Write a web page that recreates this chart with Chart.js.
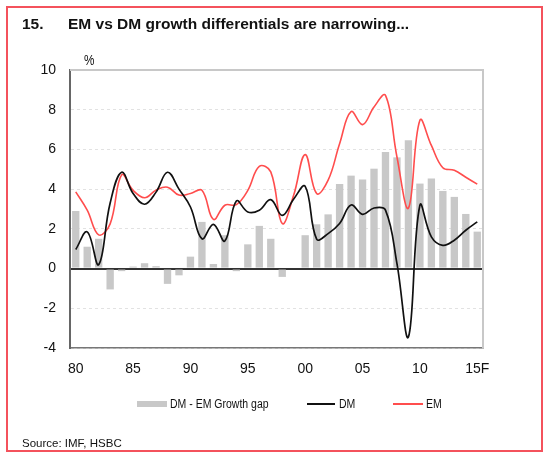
<!DOCTYPE html>
<html>
<head>
<meta charset="utf-8">
<script src="https://cdn.jsdelivr.net/npm/chart.js@4.4.1/dist/chart.umd.min.js"></script>
<style>
  body { margin: 0; background: #fff; }
  #wrap { position: relative; width: 550px; height: 460px; font-family: "Liberation Sans", Arial, sans-serif; color: #111; }
  #frame { position: absolute; left: 6px; top: 6px; width: 533px; height: 442px; border: 2px solid #f4525c; }
  #chart { position: absolute; left: 0; top: 0; }
  .t { position: absolute; white-space: nowrap; }
  .title { font-weight: bold; font-size: 15.5px; line-height: 16px; top: 16px; }
  .narrow { transform: scaleX(0.84); transform-origin: 0 50%; }
  .key { position: absolute; }
</style>
</head>
<body>
<div id="wrap">
  <div id="frame"></div>
  <canvas id="chart" width="550" height="460"></canvas>
  <div class="t title" style="left:22px">15.</div>
  <div class="t title" style="left:68px">EM vs DM growth differentials are narrowing...</div>
  <div class="t narrow" style="left:84px; top:52px; font-size:14px; line-height:16px">%</div>

  <div class="key" style="left:137px; top:401px; width:30px; height:6px; background:#c8c8c8"></div>
  <div class="t narrow" style="left:170px; top:396px; font-size:12.5px; line-height:16px">DM - EM Growth gap</div>
  <div class="key" style="left:307px; top:403px; width:28px; height:2px; background:#111"></div>
  <div class="t narrow" style="left:339px; top:396px; font-size:12.5px; line-height:16px">DM</div>
  <div class="key" style="left:393px; top:403px; width:30px; height:2px; background:#ff4d4d"></div>
  <div class="t narrow" style="left:426px; top:396px; font-size:12.5px; line-height:16px">EM</div>

  <div class="t" style="left:22px; top:435px; font-size:11.5px; line-height:16px">Source: IMF, HSBC</div>
</div>
<script>
// years on the x axis, labelled every 5 years
const years = [1980, 1981, 1982, 1983, 1984, 1985, 1986, 1987, 1988, 1989,
               1990, 1991, 1992, 1993, 1994, 1995, 1996, 1997, 1998, 1999,
               2000, 2001, 2002, 2003, 2004, 2005, 2006, 2007, 2008, 2009,
               2010, 2011, 2012, 2013, 2014, 2015];
const yearLabels = ['80', '85', '90', '95', '00', '05', '10', '15F'];

// growth gap bars (%)
const gap = [2.9, 1.1, 1.5, -1.05, -0.13, 0.1, 0.27, 0.12, -0.77, -0.34,
             0.6, 2.35, 0.23, 1.68, -0.13, 1.22, 2.15, 1.5, -0.42, 0.0,
             1.68, 2.23, 2.73, 4.26, 4.68, 4.48, 5.03, 5.87, 5.6, 6.46,
             4.28, 4.53, 3.91, 3.61, 2.75, 1.86];

// DM growth (%)
const dm = [0.96, 1.85, 0.2, 3.3, 4.85, 3.78, 3.24, 3.85, 4.85, 4.0,
            3.1, 1.5, 2.23, 1.39, 3.4, 2.85, 2.94, 3.47, 2.68, 3.5,
            4.14, 1.48, 1.76, 2.27, 3.2, 2.73, 3.05, 2.94, 0.25, -3.44,
            3.19, 1.6, 1.17, 1.43, 1.93, 2.35];

// EM growth (%)
const em = [3.86, 2.94, 1.7, 2.25, 4.72, 3.94, 3.57, 3.95, 4.1, 3.7,
            3.78, 3.94, 2.48, 3.19, 3.22, 3.94, 5.15, 4.87, 2.27, 3.7,
            5.74, 3.78, 4.45, 6.29, 7.9, 7.25, 8.14, 8.72, 5.62, 3.05,
            7.47, 6.2, 5.08, 4.95, 4.6, 4.25];

const tickFont = { family: "'Liberation Sans', Arial, sans-serif", size: 14 };

// light grey top and right edge of the plot
const plotFrame = {
  id: 'plotFrame',
  beforeDatasetsDraw(chart) {
    const { ctx, chartArea: a } = chart;
    ctx.save();
    ctx.strokeStyle = '#c8c8c8';
    ctx.lineWidth = 2;
    ctx.beginPath();
    ctx.moveTo(a.left, a.top);
    ctx.lineTo(a.right, a.top);
    ctx.lineTo(a.right, a.bottom);
    ctx.stroke();
    ctx.restore();
  }
};

new Chart(document.getElementById('chart'), {
  type: 'bar',
  data: {
    labels: years,
    datasets: [
      {
        type: 'line',
        label: 'DM',
        data: dm,
        borderColor: '#111',
        borderWidth: 1.7,
        pointRadius: 0,
        tension: 0.4,
        order: 1
      },
      {
        type: 'line',
        label: 'EM',
        data: em,
        borderColor: '#ff4d4d',
        borderWidth: 1.6,
        pointRadius: 0,
        tension: 0.4,
        order: 2
      },
      {
        label: 'DM - EM Growth gap',
        data: gap,
        backgroundColor: '#c8c8c8',
        barPercentage: 0.64,
        categoryPercentage: 1,
        order: 3
      }
    ]
  },
  options: {
    responsive: false,
    animation: false,
    devicePixelRatio: 1,
    layout: { padding: { left: 0, right: 67, top: 70, bottom: 72 } },
    plugins: { legend: { display: false }, tooltip: { enabled: false } },
    scales: {
      x: {
        grid: { display: false, drawTicks: false },
        border: { color: '#777', width: 1.5 },
        ticks: {
          autoSkip: false,
          maxRotation: 0,
          padding: 13,
          color: '#111',
          font: tickFont,
          callback: (v, i) => (i % 5 === 0 ? yearLabels[i / 5] : '')
        },
        afterFit: s => { s.height = 40; }
      },
      y: {
        min: -4,
        max: 10,
        ticks: {
          stepSize: 2,
          padding: 14,
          color: '#111',
          font: tickFont
        },
        grid: {
          drawTicks: false,
          color: c => (c.tick.value === 0 ? '#333' : c.tick.value === 10 ? 'rgba(0,0,0,0)' : '#e2e2e2'),
          lineWidth: c => (c.tick.value === 0 ? 2 : 1)
        },
        border: {
          color: '#666',
          width: 2,
          dash: c => (c.tick && c.tick.value !== 0 ? [3, 3] : [])
        },
        afterFit: s => { s.width = 70; }
      }
    }
  },
  plugins: [plotFrame]
});
</script>
</body>
</html>
